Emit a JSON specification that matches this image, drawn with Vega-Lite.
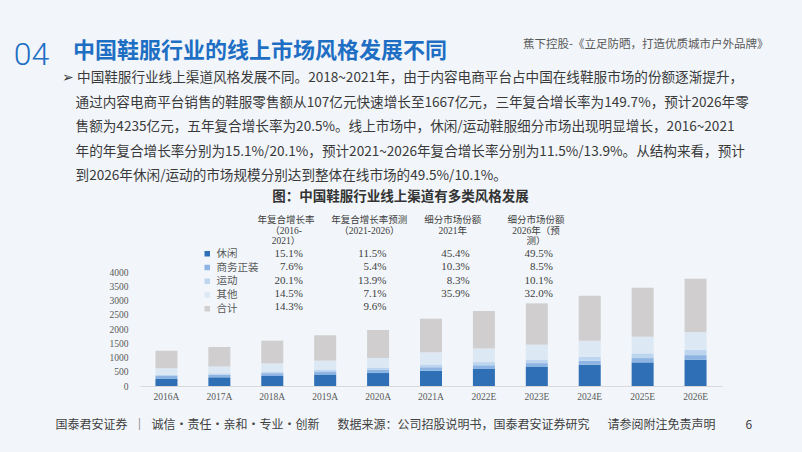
{
  "$schema": "https://vega.github.io/schema/vega-lite/v6.json",
  "width": 582,
  "height": 114,
  "autosize": {"type": "none"},
  "padding": {"left": 140, "top": 272, "right": 80, "bottom": 66},
  "background": "#F2F6FA",
  "config": {"view": {"stroke": null}},
  "title": {
    "text": "\u200B\u2002中国鞋服行业的线上市场风格发展不同",
    "subtitle": [
      "➢ 中国鞋服行业线上渠道风格发展不同。2018~2021年，由于内容电商平台占中国在线鞋服市场的份额逐渐提升，",
      "\u200B\u2003通过内容电商平台销售的鞋服零售额从107亿元快速增长至1667亿元，三年复合增长率为149.7%，预计2026年零",
      "\u200B\u2003售额为4235亿元，五年复合增长率为20.5%。线上市场中，休闲/运动鞋服细分市场出现明显增长，2016~2021",
      "\u200B\u2003年的年复合增长率分别为15.1%/20.1%，预计2021~2026年复合增长率分别为11.5%/13.9%。从结构来看，预计",
      "\u200B\u2003到2026年休闲/运动的市场规模分别达到整体在线市场的49.5%/10.1%。"
    ],
    "anchor": "start",
    "frame": "group",
    "orient": "top",
    "dx": -78,
    "offset": -146,
    "font": "Noto Sans CJK SC",
    "fontSize": 22,
    "fontWeight": "bold",
    "color": "#1E6FC4",
    "subtitleFont": "Noto Sans CJK SC",
    "subtitleFontSize": 13.6,
    "subtitleColor": "#3A3A3A",
    "subtitleLineHeight": 24.5,
    "subtitlePadding": 8
  },
  "resolve": {
    "scale": {"x": "independent", "y": "independent"},
    "axis": {"x": "independent", "y": "independent"}
  },
  "layer": [
    {
      "data": {
        "values": [
          {"year": "2016A", "seg": "休闲", "ord": 1, "value": 265}, {"year": "2016A", "seg": "商务正装", "ord": 2, "value": 84}, {"year": "2016A", "seg": "运动", "ord": 3, "value": 39}, {"year": "2016A", "seg": "其他", "ord": 4, "value": 232}, {"year": "2016A", "seg": "合计", "ord": 5, "value": 620},
          {"year": "2017A", "seg": "休闲", "ord": 1, "value": 305}, {"year": "2017A", "seg": "商务正装", "ord": 2, "value": 92}, {"year": "2017A", "seg": "运动", "ord": 3, "value": 47}, {"year": "2017A", "seg": "其他", "ord": 4, "value": 241}, {"year": "2017A", "seg": "合计", "ord": 5, "value": 685},
          {"year": "2018A", "seg": "休闲", "ord": 1, "value": 350}, {"year": "2018A", "seg": "商务正装", "ord": 2, "value": 99}, {"year": "2018A", "seg": "运动", "ord": 3, "value": 57}, {"year": "2018A", "seg": "其他", "ord": 4, "value": 289}, {"year": "2018A", "seg": "合计", "ord": 5, "value": 795},
          {"year": "2019A", "seg": "休闲", "ord": 1, "value": 405}, {"year": "2019A", "seg": "商务正装", "ord": 2, "value": 106}, {"year": "2019A", "seg": "运动", "ord": 3, "value": 68}, {"year": "2019A", "seg": "其他", "ord": 4, "value": 311}, {"year": "2019A", "seg": "合计", "ord": 5, "value": 890},
          {"year": "2020A", "seg": "休闲", "ord": 1, "value": 455}, {"year": "2020A", "seg": "商务正装", "ord": 2, "value": 113}, {"year": "2020A", "seg": "运动", "ord": 3, "value": 82}, {"year": "2020A", "seg": "其他", "ord": 4, "value": 333}, {"year": "2020A", "seg": "合计", "ord": 5, "value": 983},
          {"year": "2021A", "seg": "休闲", "ord": 1, "value": 536}, {"year": "2021A", "seg": "商务正装", "ord": 2, "value": 122}, {"year": "2021A", "seg": "运动", "ord": 3, "value": 98}, {"year": "2021A", "seg": "其他", "ord": 4, "value": 425}, {"year": "2021A", "seg": "合计", "ord": 5, "value": 1181},
          {"year": "2022E", "seg": "休闲", "ord": 1, "value": 598}, {"year": "2022E", "seg": "商务正装", "ord": 2, "value": 129}, {"year": "2022E", "seg": "运动", "ord": 3, "value": 112}, {"year": "2022E", "seg": "其他", "ord": 4, "value": 477}, {"year": "2022E", "seg": "合计", "ord": 5, "value": 1316},
          {"year": "2023E", "seg": "休闲", "ord": 1, "value": 667}, {"year": "2023E", "seg": "商务正装", "ord": 2, "value": 136}, {"year": "2023E", "seg": "运动", "ord": 3, "value": 127}, {"year": "2023E", "seg": "其他", "ord": 4, "value": 520}, {"year": "2023E", "seg": "合计", "ord": 5, "value": 1450},
          {"year": "2024E", "seg": "休闲", "ord": 1, "value": 743}, {"year": "2024E", "seg": "商务正装", "ord": 2, "value": 143}, {"year": "2024E", "seg": "运动", "ord": 3, "value": 145}, {"year": "2024E", "seg": "其他", "ord": 4, "value": 554}, {"year": "2024E", "seg": "合计", "ord": 5, "value": 1585},
          {"year": "2025E", "seg": "休闲", "ord": 1, "value": 829}, {"year": "2025E", "seg": "商务正装", "ord": 2, "value": 151}, {"year": "2025E", "seg": "运动", "ord": 3, "value": 165}, {"year": "2025E", "seg": "其他", "ord": 4, "value": 580}, {"year": "2025E", "seg": "合计", "ord": 5, "value": 1725},
          {"year": "2026E", "seg": "休闲", "ord": 1, "value": 924}, {"year": "2026E", "seg": "商务正装", "ord": 2, "value": 159}, {"year": "2026E", "seg": "运动", "ord": 3, "value": 188}, {"year": "2026E", "seg": "其他", "ord": 4, "value": 612}, {"year": "2026E", "seg": "合计", "ord": 5, "value": 1883}
        ]
      },
      "mark": {"type": "bar"},
      "encoding": {
        "x": {
          "field": "year", "type": "nominal", "sort": null,
          "scale": {"paddingInner": 0.584, "paddingOuter": 0.292},
          "axis": {
            "orient": "bottom", "labelAngle": 0, "labelFont": "Liberation Serif", "labelFontSize": 9.5, "labelColor": "#595959",
            "labelPadding": 5, "ticks": false, "domainColor": "#D9D9D9", "grid": false,
            "title": "国泰君安证券\u2002│\u2002诚信·责任·亲和·专业·创新\u2003\u2002数据来源：公司招股说明书，国泰君安证券研究\u2003\u2002请参阅附注免责声明\u2003\u2003\u20026",
            "titleFont": "Noto Sans CJK SC", "titleFontSize": 12, "titleFontWeight": "normal", "titleColor": "#404040",
            "titleX": -85, "titleY": 38, "titleAlign": "left", "titleBaseline": "middle"
          }
        },
        "y": {
          "field": "value", "type": "quantitative", "stack": "zero",
          "scale": {"domain": [0, 4000], "nice": false},
          "axis": {
            "orient": "left", "values": [0, 500, 1000, 1500, 2000, 2500, 3000, 3500, 4000], "format": "d",
            "labelFont": "Liberation Serif", "labelFontSize": 9.5, "labelColor": "#595959", "labelPadding": 12,
            "ticks": false, "domain": false, "grid": false,
            "title": "04", "titleFont": "Roboto", "titleFontSize": 32, "titleFontWeight": 300, "titleColor": "#1E6FC4",
            "titleAngle": 0, "titleX": -109, "titleY": -218, "titleAlign": "center", "titleBaseline": "middle"
          }
        },
        "order": {"field": "ord", "type": "quantitative", "sort": "ascending"},
        "color": {
          "field": "seg", "type": "nominal",
          "sort": ["休闲", "商务正装", "运动", "其他", "合计"],
          "scale": {
            "domain": ["休闲", "商务正装", "运动", "其他", "合计"],
            "range": ["#2E6FB6", "#8DB4E2", "#BDD5EE", "#DDE8F5", "#D0CECE"]
          },
          "legend": {
            "orient": "none", "legendX": 62, "legendY": -23.5, "title": null,
            "symbolType": "square", "symbolSize": 30, "symbolStrokeWidth": 0,
            "labelFont": "Noto Sans CJK SC", "labelFontSize": 10.5, "labelColor": "#595959", "rowPadding": 2.75
          }
        }
      }
    },
    {
      "layer": [
        {
          "data": {
            "values": [
              {"col": "年复合增长率（2016-2021）", "seg": "休闲", "v": 0.151},
              {"col": "年复合增长率（2016-2021）", "seg": "商务正装", "v": 0.076},
              {"col": "年复合增长率（2016-2021）", "seg": "运动", "v": 0.201},
              {"col": "年复合增长率（2016-2021）", "seg": "其他", "v": 0.145},
              {"col": "年复合增长率（2016-2021）", "seg": "合计", "v": 0.143},
              {"col": "年复合增长率预测（2021-2026）", "seg": "休闲", "v": 0.115},
              {"col": "年复合增长率预测（2021-2026）", "seg": "商务正装", "v": 0.054},
              {"col": "年复合增长率预测（2021-2026）", "seg": "运动", "v": 0.139},
              {"col": "年复合增长率预测（2021-2026）", "seg": "其他", "v": 0.071},
              {"col": "年复合增长率预测（2021-2026）", "seg": "合计", "v": 0.096},
              {"col": "细分市场份额2021年", "seg": "休闲", "v": 0.454},
              {"col": "细分市场份额2021年", "seg": "商务正装", "v": 0.103},
              {"col": "细分市场份额2021年", "seg": "运动", "v": 0.083},
              {"col": "细分市场份额2021年", "seg": "其他", "v": 0.359},
              {"col": "细分市场份额2026年（预测）", "seg": "休闲", "v": 0.495},
              {"col": "细分市场份额2026年（预测）", "seg": "商务正装", "v": 0.085},
              {"col": "细分市场份额2026年（预测）", "seg": "运动", "v": 0.101},
              {"col": "细分市场份额2026年（预测）", "seg": "其他", "v": 0.32}
            ]
          },
          "mark": {"type": "text", "align": "right", "baseline": "middle", "font": "Liberation Serif", "fontSize": 11, "color": "#404040"},
          "encoding": {
            "x": {
              "field": "col", "type": "nominal", "sort": null,
              "scale": {"type": "point", "domain": ["年复合增长率（2016-2021）", "年复合增长率预测（2021-2026）", "细分市场份额2021年", "细分市场份额2026年（预测）"], "range": [163, 413], "padding": 0},
              "axis": {
                "orient": "top", "labels": false, "ticks": false, "domain": false, "grid": false,
                "title": "图：中国鞋服行业线上渠道有多类风格发展",
                "titleFont": "Noto Sans CJK SC", "titleFontSize": 13.5, "titleFontWeight": "bold", "titleColor": "#333333",
                "titleX": 260, "titleY": -76, "titleAlign": "center", "titleBaseline": "middle"
              }
            },
            "y": {
              "field": "seg", "type": "nominal", "sort": null,
              "scale": {"type": "point", "domain": ["休闲", "商务正装", "运动", "其他", "合计"], "range": [-18, 35], "padding": 0},
              "axis": {
                "orient": "right", "labels": false, "ticks": false, "domain": false, "grid": false,
                "title": "蕉下控股-《立足防晒，打造优质城市户外品牌》",
                "titleFont": "Noto Sans CJK SC", "titleFontSize": 11.5, "titleFontWeight": "normal", "titleColor": "#595959",
                "titleAngle": 0, "titleX": 46, "titleY": -228, "titleAlign": "right", "titleBaseline": "middle"
              }
            },
            "text": {"field": "v", "type": "quantitative", "format": ".1%"}
          }
        },
        {
          "data": {
            "values": [
              {"col": "年复合增长率（2016-2021）", "label": "年复合增长率\n（2016-\n2021）"},
              {"col": "年复合增长率预测（2021-2026）", "label": "年复合增长率预测\n（2021-2026）"},
              {"col": "细分市场份额2021年", "label": "细分市场份额\n2021年"},
              {"col": "细分市场份额2026年（预测）", "label": "细分市场份额\n2026年（预\n测）"}
            ]
          },
          "mark": {"type": "text", "align": "center", "baseline": "top", "dx": -17, "dy": -39, "lineBreak": "\n", "lineHeight": 10.5, "font": "Liberation Serif, Noto Sans CJK SC", "fontSize": 9.5, "color": "#404040"},
          "encoding": {
            "x": {"field": "col", "type": "nominal", "sort": null},
            "y": {"datum": "休闲", "type": "nominal"},
            "text": {"field": "label", "type": "nominal"}
          }
        }
      ]
    }
  ]
}
